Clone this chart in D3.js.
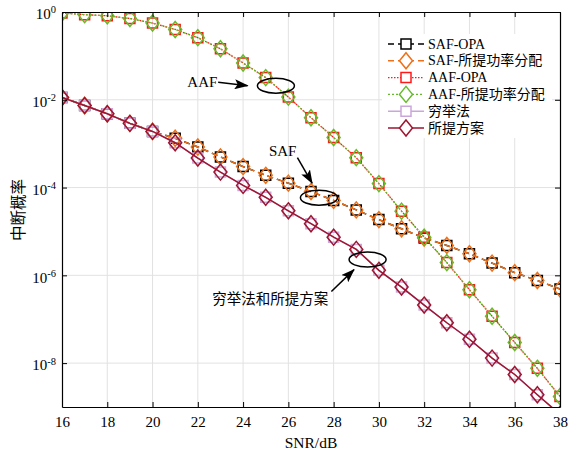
<!DOCTYPE html>
<html>
<head>
<meta charset="utf-8">
<script src="https://cdn.jsdelivr.net/npm/d3@7"></script>
<style>
  body { margin: 0; background: #fff; }
  text { font-family: "Liberation Serif", "Noto Sans CJK SC", serif; fill: #000; }
</style>
</head>
<body>
<div id="chart"></div>
<script>
// SNR (dB) on the x axis
const snr = [16, 17, 18, 19, 20, 21, 22, 23, 24, 25, 26, 27, 28, 29, 30, 31, 32, 33, 34, 35, 36, 37, 38];

// outage probability
const safOpa = [1.13e-2, 7.4e-3, 4.8e-3, 2.9e-3, 1.9e-3, 1.33e-3, 8.4e-4, 5.0e-4, 3.0e-4, 1.9e-4, 1.26e-4, 8.1e-5,
  5.1e-5, 3.1e-5, 1.86e-5, 1.15e-5, 7.1e-6, 4.8e-6, 3.1e-6, 1.9e-6, 1.15e-6, 7.6e-7, 4.9e-7];
const safProp = [1.13e-2, 7.4e-3, 4.8e-3, 2.9e-3, 1.9e-3, 1.33e-3, 8.4e-4, 5.0e-4, 3.0e-4, 1.9e-4, 1.26e-4, 8.1e-5,
  5.1e-5, 3.1e-5, 1.86e-5, 1.15e-5, 7.1e-6, 4.8e-6, 3.1e-6, 1.9e-6, 1.15e-6, 7.6e-7, 4.9e-7];
const aafOpa = [0.95, 0.87, 0.82, 0.71, 0.56, 0.40, 0.26, 0.145, 0.069, 0.032, 1.15e-2, 3.9e-3,
  1.38e-3, 4.8e-4, 1.23e-4, 2.9e-5, 7.4e-6, 1.95e-6, 4.7e-7, 1.17e-7, 2.95e-8, 7.6e-9, 1.74e-9];
const aafProp = [0.95, 0.87, 0.82, 0.71, 0.56, 0.40, 0.26, 0.145, 0.069, 0.032, 1.15e-2, 3.9e-3,
  1.38e-3, 4.8e-4, 1.23e-4, 2.9e-5, 7.4e-6, 1.95e-6, 4.7e-7, 1.17e-7, 2.95e-8, 7.6e-9, 1.74e-9];
const exhaustive = [1.13e-2, 7.4e-3, 4.8e-3, 2.9e-3, 1.9e-3, 1.05e-3, 4.7e-4, 2.25e-4, 1.12e-4, 6.0e-5, 2.95e-5, 1.5e-5,
  7.4e-6, 3.9e-6, 1.3e-6, 5.4e-7, 2.1e-7, 8.3e-8, 3.5e-8, 1.3e-8, 5.5e-9, 1.9e-9, 6.8e-10];
const proposed = [1.13e-2, 7.4e-3, 4.8e-3, 2.9e-3, 1.9e-3, 1.05e-3, 4.7e-4, 2.25e-4, 1.12e-4, 6.0e-5, 2.95e-5, 1.5e-5,
  7.4e-6, 3.9e-6, 1.3e-6, 5.4e-7, 2.1e-7, 8.3e-8, 3.5e-8, 1.3e-8, 5.5e-9, 1.9e-9, 6.8e-10];

const seriesNames = ["SAF-OPA", "SAF-所提功率分配", "AAF-OPA", "AAF-所提功率分配", "穷举法", "所提方案"];
const xTicks = [16, 18, 20, 22, 24, 26, 28, 30, 32, 34, 36, 38];
const yTicks = [1, 1e-2, 1e-4, 1e-6, 1e-8];
const yExponents = ["0", "-2", "-4", "-6", "-8"];

// annotations: label, text position, arrow start/end, ellipse centre (data coords)
const annotations = [
  { label: "AAF", text: [22.2, 10 ** -1.6], from: [22.9, 10 ** -1.6], to: [24.2, 10 ** -1.68], ell: [25.45, 10 ** -1.68] },
  { label: "SAF", text: [25.75, 10 ** -3.16], from: [26.4, 10 ** -3.32], to: [27.05, 10 ** -3.9], ell: [27.35, 10 ** -4.23] },
  { label: "穷举法和所提方案", text: [25.2, 10 ** -6.55], from: [27.9, 10 ** -6.37], to: [28.9, 10 ** -5.87], ell: [29.5, 10 ** -5.64] }
];

function drawChart() {
  let width = 568,
    height = 452,
    margin = { left: 62, right: 8, top: 12, bottom: 45 };

  let series = [
    { name: seriesNames[0], values: safOpa, color: "#000000", dash: "6,4", width: 1.5, shape: "square" },
    { name: seriesNames[1], values: safProp, color: "#EE7018", dash: "6,4", width: 1.5, shape: "diamond" },
    { name: seriesNames[2], values: aafOpa, color: "#FF1A1A", dash: "1.5,1.5", width: 1.3, shape: "square" },
    { name: seriesNames[3], values: aafProp, color: "#66BB2A", dash: "2,2", width: 1.3, shape: "diamond" },
    { name: seriesNames[4], values: exhaustive, color: "#CBA6DA", dash: null, width: 1.5, shape: "square" },
    { name: seriesNames[5], values: proposed, color: "#9E1530", dash: null, width: 1.5, shape: "diamond" }
  ];

  let xScale = d3.scaleLinear().domain([16, 38]).range([margin.left, width - margin.right]);
  let yScale = d3.scaleLog().domain([1e-9, 1]).range([height - margin.bottom, margin.top]);

  let svg = d3.select("#chart").append("svg").attr("width", width).attr("height", height);

  svg.append("defs").append("clipPath").attr("id", "clip")
    .append("rect")
    .attr("x", margin.left).attr("y", margin.top)
    .attr("width", width - margin.left - margin.right)
    .attr("height", height - margin.top - margin.bottom);

  svg.append("defs").append("marker")
    .attr("id", "arrow")
    .attr("viewBox", "0 -5 14 10")
    .attr("refX", 13).attr("refY", 0)
    .attr("markerWidth", 14).attr("markerHeight", 10)
    .attr("markerUnits", "userSpaceOnUse")
    .attr("orient", "auto")
    .append("path")
    .attr("d", "M0,-5L14,0L0,5L3,0Z")
    .attr("fill", "#000");

  // grid
  let grid = svg.append("g").attr("stroke", "#e2e2e2").attr("stroke-width", 1);
  grid.selectAll(".gx").data(xTicks.slice(1, -1)).enter().append("line")
    .attr("x1", (d) => xScale(d)).attr("x2", (d) => xScale(d))
    .attr("y1", margin.top).attr("y2", height - margin.bottom);
  grid.selectAll(".gy").data(yTicks.slice(1)).enter().append("line")
    .attr("x1", margin.left).attr("x2", width - margin.right)
    .attr("y1", (d) => yScale(d)).attr("y2", (d) => yScale(d));

  let shapes = {
    square: "M-5,-5H5V5H-5Z",
    diamond: "M0,-8L6.5,0L0,8L-6.5,0Z"
  };

  let line = d3.line().x((d, i) => xScale(snr[i])).y((d) => yScale(d));

  let plot = svg.append("g").attr("clip-path", "url(#clip)");
  series.forEach((s) => {
    let g = plot.append("g");
    g.append("path")
      .datum(s.values)
      .attr("d", line)
      .attr("fill", "none")
      .attr("stroke", s.color)
      .attr("stroke-width", s.width)
      .attr("stroke-dasharray", s.dash);
    g.selectAll("path.mk")
      .data(s.values)
      .enter()
      .append("path")
      .attr("class", "mk")
      .attr("d", shapes[s.shape])
      .attr("transform", (d, i) => "translate(" + xScale(snr[i]) + "," + yScale(d) + ")")
      .attr("fill", "none")
      .attr("stroke", s.color)
      .attr("stroke-width", 1.5);
  });

  // annotations
  let ann = svg.append("g");
  annotations.forEach((a) => {
    ann.append("text")
      .attr("x", xScale(a.text[0])).attr("y", yScale(a.text[1]))
      .attr("text-anchor", "middle").attr("dominant-baseline", "central")
      .attr("font-size", a.label.length > 3 ? "14.5px" : "15px")
      .text(a.label);
    ann.append("line")
      .attr("x1", xScale(a.from[0])).attr("y1", yScale(a.from[1]))
      .attr("x2", xScale(a.to[0])).attr("y2", yScale(a.to[1]))
      .attr("stroke", "#000").attr("stroke-width", 1.5)
      .attr("marker-end", "url(#arrow)");
    ann.append("ellipse")
      .attr("cx", xScale(a.ell[0])).attr("cy", yScale(a.ell[1]))
      .attr("rx", 18.5).attr("ry", 7.5)
      .attr("fill", "none").attr("stroke", "#000").attr("stroke-width", 1.5);
  });

  // axes with inward ticks on all four sides
  let xAxis = d3.axisBottom(xScale).tickValues(xTicks).tickSizeInner(-5).tickSizeOuter(0).tickPadding(9);
  let yAxis = d3.axisLeft(yScale).tickValues(yTicks).tickSizeInner(-5).tickSizeOuter(0).tickPadding(6);

  let gx = svg.append("g")
    .attr("transform", "translate(0," + (height - margin.bottom) + ")")
    .call(xAxis);
  gx.selectAll("text").attr("font-size", "15px");

  let gy = svg.append("g")
    .attr("transform", "translate(" + margin.left + ",0)")
    .call(yAxis);
  gy.selectAll("text").each(function (d, i) {
    let t = d3.select(this).text("").attr("font-size", "15px").attr("dy", "0.45em");
    t.append("tspan").text("10");
    t.append("tspan").attr("dy", "-0.55em").attr("font-size", "10.5px").text(yExponents[i]);
  });

  svg.append("g")
    .attr("transform", "translate(0," + margin.top + ")")
    .call(d3.axisTop(xScale).tickValues(xTicks).tickSizeInner(-5).tickSizeOuter(0).tickFormat(""));
  svg.append("g")
    .attr("transform", "translate(" + (width - margin.right) + ",0)")
    .call(d3.axisRight(yScale).tickValues(yTicks).tickSizeInner(-5).tickSizeOuter(0).tickFormat(""));

  svg.selectAll(".domain").attr("stroke", "#000").attr("stroke-width", 1.2);
  svg.selectAll(".tick line").attr("stroke", "#000");

  // legend
  let legend = svg.append("g");
  legend.append("rect")
    .attr("x", 382).attr("y", 34).attr("width", 170).attr("height", 104)
    .attr("fill", "#fff");
  series.forEach((s, i) => {
    let y = 44 + i * 16.8;
    legend.append("line")
      .attr("x1", 388).attr("x2", 424).attr("y1", y).attr("y2", y)
      .attr("stroke", s.color).attr("stroke-width", s.width)
      .attr("stroke-dasharray", s.dash);
    legend.append("path")
      .attr("d", shapes[s.shape])
      .attr("transform", "translate(406," + y + ")")
      .attr("fill", "#fff").attr("stroke", s.color).attr("stroke-width", 1.5);
    legend.append("text")
      .attr("x", 428).attr("y", y).attr("dominant-baseline", "central")
      .attr("font-size", "14px")
      .text(s.name);
  });

  // axis titles
  svg.append("text")
    .attr("x", (margin.left + width - margin.right) / 2).attr("y", 442)
    .attr("text-anchor", "middle").attr("dominant-baseline", "central")
    .attr("font-size", "15.5px")
    .text("SNR/dB");
  svg.append("text")
    .attr("transform", "translate(18,210) rotate(-90)")
    .attr("text-anchor", "middle").attr("dominant-baseline", "central")
    .attr("font-size", "15.5px")
    .text("中断概率");
}

drawChart();
</script>
</body>
</html>
